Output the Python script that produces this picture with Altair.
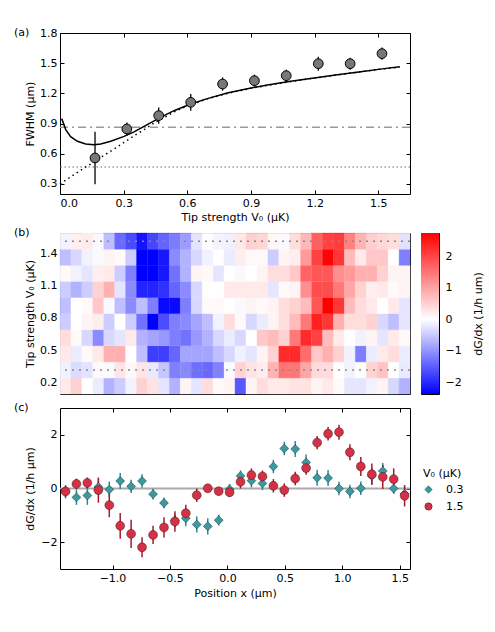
import altair as alt
import pandas as pd

FONT = "DejaVu Sans"
W, H = 350, 161

# ---------------- panel (a) data ----------------
v0_meas = [0.165, 0.315, 0.465, 0.616, 0.766, 0.916, 1.066, 1.217, 1.367, 1.517]
fwhm_meas = [0.558, 0.846, 0.979, 1.111, 1.293, 1.326, 1.376, 1.495, 1.495, 1.595]
fwhm_err = [0.26, 0.065, 0.08, 0.083, 0.066, 0.06, 0.06, 0.07, 0.06, 0.06]

model_v0 = [0.008, 0.027, 0.05, 0.082, 0.121, 0.16, 0.192, 0.239, 0.302, 0.349, 0.411, 0.474,
            0.537, 0.616, 0.694, 0.788, 0.883, 0.977, 1.087, 1.197, 1.307, 1.417, 1.527, 1.6]
model_fwhm = [0.949, 0.84, 0.77, 0.724, 0.697, 0.69, 0.697, 0.724, 0.773, 0.817, 0.89, 0.962,
              1.028, 1.095, 1.148, 1.204, 1.247, 1.283, 1.32, 1.353, 1.386, 1.416, 1.446, 1.465]
approx_v0 = [0.0, 0.05, 0.1, 0.15, 0.2, 0.25, 0.3, 0.35, 0.4, 0.45, 0.5, 0.55, 0.6, 0.7, 0.8,
             0.9, 1.0, 1.1, 1.2, 1.3, 1.4, 1.5, 1.6]
approx_fwhm = [0.30, 0.37, 0.44, 0.505, 0.575, 0.64, 0.71, 0.78, 0.845, 0.915, 0.97, 1.03, 1.075,
               1.15, 1.205, 1.25, 1.288, 1.322, 1.352, 1.382, 1.41, 1.438, 1.46]
ref_dashdot = [0.863]
ref_dotted = [0.469]
a_xticks = [0.0, 0.3, 0.6, 0.9, 1.2, 1.5]
a_yticks = [0.3, 0.6, 0.9, 1.2, 1.5, 1.8]

# ---------------- panel (c) data ----------------
pos_x = [-1.409, -1.314, -1.219, -1.123, -1.028, -0.933, -0.838, -0.743, -0.647, -0.552, -0.457,
         -0.362, -0.267, -0.171, -0.076, 0.019, 0.114, 0.209, 0.305, 0.400, 0.495, 0.590, 0.685,
         0.781, 0.876, 0.971, 1.066, 1.161, 1.257, 1.352, 1.447, 1.542]
dgdx_03 = [-0.12, -0.33, -0.26, 0.06, -0.04, 0.28, 0.08, 0.28, -0.21, -0.54, -1.19, -1.11, -1.34,
           -1.41, -1.18, -0.03, 0.47, 0.29, 0.19, 0.82, 1.49, 1.47, 0.97, 0.40, 0.39, 0.0, -0.11,
           0.01, 0.47, 0.65, 0.0, -0.2]
err_03 = [0.25, 0.28, 0.35, 0.3, 0.3, 0.3, 0.25, 0.25, 0.2, 0.2, 0.25, 0.3, 0.3, 0.3, 0.2, 0.2,
          0.2, 0.25, 0.25, 0.25, 0.25, 0.3, 0.3, 0.3, 0.3, 0.25, 0.25, 0.25, 0.3, 0.3, 0.2, 0.25]
dgdx_15 = [-0.11, 0.17, 0.21, -0.06, -0.62, -1.39, -1.69, -2.19, -1.73, -1.45, -1.23, -0.92, -0.25,
           0.01, -0.10, -0.14, 0.25, 0.50, 0.45, 0.10, -0.06, 0.37, 0.76, 1.71, 2.04, 2.10, 1.35,
           0.82, 0.53, 0.43, 0.35, -0.27]
err_15 = [0.2, 0.2, 0.2, 0.47, 0.45, 0.48, 0.53, 0.37, 0.34, 0.38, 0.38, 0.31, 0.25, 0.15, 0.15,
          0.17, 0.25, 0.25, 0.22, 0.25, 0.25, 0.25, 0.25, 0.25, 0.25, 0.28, 0.3, 0.35, 0.4, 0.45,
          0.4, 0.4]
series_names = ["0.3", "1.5"]
c_xticks = [-1.0, -0.5, 0.0, 0.5, 1.0, 1.5]
c_yticks = [-2, 0, 2]
zero_line = [0]

# ---------------- panel (b) data ----------------
row_0165 = [0.24, 0.48, 0.0, -0.18, -0.72, -0.48, -0.12, 0.48, 0.3, -0.24, -0.72, 0.12, -0.24, 0.36,
            0.06, 0.12, -1.56, 0.12, 0.36, 0.24, 0.24, 0.3, 0.3, 0.12, 0.24, 0.06, -0.24, -0.24,
            -0.12, 0.12, -0.36, -0.72]
row_0465 = [0.24, -0.18, 0.06, 0.24, 0.84, 0.84, 0.0, -0.6, -1.8, -1.8, -1.44, -0.84, -0.84, -0.84,
            -0.6, -0.36, -0.12, -0.24, 0.12, 0.48, 2.28, 2.28, 1.56, 0.6, 0.84, 0.48, -0.12, -1.2,
            -0.18, 0.24, 0.36, -0.18]
row_0616 = [0.36, 0.06, -0.36, -1.08, -0.36, -0.24, 0.24, -0.72, -0.84, -0.96, -1.2, -1.32, -0.96,
            -0.72, -0.36, -0.18, -0.36, 0.0, 0.6, 0.72, 0.48, 1.44, 2.28, 2.04, 0.72, 0.24, 0.0,
            -0.12, 0.12, -0.24, 0.24, 0.06]
row_0766 = [-0.48, 0.0, 0.12, 0.18, -0.48, 0.0, -0.48, -1.32, -2.38, -1.68, -1.2, -1.08, -0.84, -0.6,
            -0.12, 0.36, 0.06, -0.36, -0.18, 0.12, 0.36, 0.72, 1.44, 2.4, 2.16, 0.84, 0.36, 0.36,
            0.48, -0.36, -0.6, -0.24]
row_0916 = [-0.6, 0.0, 0.06, 0.6, -0.06, -0.6, -1.08, -0.6, -1.2, -2.3, -2.3, -1.2, -0.36, 0.06, 0.06,
            0.0, -0.06, 0.12, 0.06, 0.12, 0.36, 0.48, 0.72, 1.8, 2.74, 2.16, 0.72, 0.36, 0.24, 0.0,
            0.24, -0.24]
row_1066 = [-0.48, -0.72, -0.48, 0.48, 0.84, -0.24, -1.08, -2.04, -2.04, -1.92, -1.44, -1.08, -0.36,
            0.0, 0.0, 0.24, 0.24, 0.24, 0.24, -0.24, 0.06, 0.12, 1.2, 1.92, 1.92, 1.44, 0.96, 0.48,
            0.18, 0.24, 0.06, 0.12]
row_1217 = [0.06, -0.12, -0.24, 0.18, 0.24, -0.48, -1.2, -2.38, -2.38, -2.16, -1.32, -0.72, 0.12,
            0.06, -0.24, 0.0, -0.06, 0.0, 0.12, 0.36, 0.36, 0.6, 1.68, 1.8, 1.8, 1.2, 1.08, 0.84,
            0.84, 0.48, 0.12, 0.12]
row_1367 = [-0.6, -0.36, -0.12, -0.06, 0.12, 0.06, -0.48, -2.38, -2.38, -2.16, -1.08, -0.72, -0.36,
            -0.12, 0.0, -0.18, 0.18, 0.06, 0.06, -0.48, 0.12, 0.18, 1.08, 2.04, 2.7, 2.16, 0.72,
            0.24, 0.6, 0.6, 0.0, -1.2]
heat_rows = [row_0165, dgdx_03, row_0465, row_0616, row_0766, row_0916, row_1066, row_1217,
             row_1367, dgdx_15]
cut_v0 = [0.315, 1.517]
b_yticks = [0.2, 0.5, 0.8, 1.1, 1.4]
cb_domain = [-2.38, 2.74]
cb_ticks = [-2, -1, 0, 1, 2]

panel_labels = ["(a)", "(b)", "(c)"]

CELL_W = 0.0952
CELL_H = 0.1503

# ---------------- styles ----------------
TEAL, RED = "#3a9aa0", "#d63046"
TEAL_BAR, RED_BAR = "#2e8a90", "#a8182f"

TICK = dict(tickSize={"expr": "-4"}, tickColor="black", tickWidth=1, domain=False, grid=False)
AXL = dict(TICK, labelFontSize=11, labelPadding=7, labelColor="black", labelFont=FONT,
           titleFontSize=11, titleFontWeight="normal", titleColor="black", titleFont=FONT,
           titlePadding=3)


def mirror(df, xf, yf, xs, ys, xv, yv):
    return alt.Chart(df).mark_point(opacity=0).encode(
        x=alt.X(xf, scale=xs, axis=alt.Axis(orient="top", values=xv, labels=False, title=None, **TICK)),
        y=alt.Y(yf, scale=ys, axis=alt.Axis(orient="right", values=yv, labels=False, title=None, **TICK)),
    )


def panel_label(txt):
    return alt.Chart(pd.DataFrame({"t": [txt]})).mark_text(
        align="left", baseline="middle", fontSize=11, font=FONT, color="black").encode(
        text="t:N", x=alt.value(-46), y=alt.value(0))


# ---------------- panel (a) ----------------
xs_a = alt.Scale(domain=[0.0, 1.649], nice=False, zero=False)
ys_a = alt.Scale(domain=[0.2, 1.8], nice=False, zero=False)
pts_a = pd.DataFrame({"v0": v0_meas, "fwhm": fwhm_meas, "err": fwhm_err})

a_dd = alt.Chart(pd.DataFrame({"y": ref_dashdot})).mark_rule(
    color="#9a9a9a", strokeWidth=1.5, strokeDash=[8, 4, 2, 4]).encode(
    y=alt.Y("y:Q", scale=ys_a, axis=None))
a_dt = alt.Chart(pd.DataFrame({"y": ref_dotted})).mark_rule(
    color="#9a9a9a", strokeWidth=1.5, strokeDash=[1.5, 2.5]).encode(
    y=alt.Y("y:Q", scale=ys_a, axis=None))
a_approx = alt.Chart(pd.DataFrame({"v0": approx_v0, "f": approx_fwhm})).mark_line(
    color="black", strokeWidth=1.5, strokeDash=[1.5, 3.5]).encode(
    x=alt.X("v0:Q", scale=xs_a, axis=None), y=alt.Y("f:Q", scale=ys_a, axis=None))
a_model = alt.Chart(pd.DataFrame({"v0": model_v0, "f": model_fwhm})).mark_line(
    color="black", strokeWidth=1.5).encode(
    x=alt.X("v0:Q", scale=xs_a, axis=None), y=alt.Y("f:Q", scale=ys_a, axis=None))
a_err = alt.Chart(pts_a).transform_calculate(
    lo="datum.fwhm - datum.err", hi="datum.fwhm + datum.err").mark_rule(
    color="black", strokeWidth=1.3).encode(
    x=alt.X("v0:Q", scale=xs_a, axis=None),
    y=alt.Y("lo:Q", scale=ys_a, axis=None), y2="hi:Q")
a_pts = alt.Chart(pts_a).mark_point(filled=True, size=95, color="#777777", stroke="black",
                                    strokeWidth=1, opacity=1).encode(
    x=alt.X("v0:Q", scale=xs_a,
            axis=alt.Axis(values=a_xticks, format=".1f", title="Tip strength V₀ (μK)", **AXL)),
    y=alt.Y("fwhm:Q", scale=ys_a,
            axis=alt.Axis(values=a_yticks, format=".1f", title="FWHM (μm)", titleX=-25, **AXL)),
)
panel_a = alt.layer(a_dd, a_dt, a_approx, a_model, a_err, a_pts,
                    mirror(pts_a, "v0:Q", "fwhm:Q", xs_a, ys_a, a_xticks, a_yticks),
                    panel_label(panel_labels[0])).resolve_axis(
    x="independent", y="independent").properties(width=W, height=H)

# ---------------- panel (b) ----------------
xs_c = alt.Scale(domain=[-1.457, 1.589], nice=False, zero=False)
ys_b = alt.Scale(domain=[0.090, 1.593], nice=False, zero=False)
recs = []
for v0, row in zip(v0_meas, heat_rows):
    for x, val in zip(pos_x, row):
        recs.append({"x": x, "v0": v0, "val": val})
heat_df = pd.DataFrame(recs)
heat_scale = alt.Scale(domain=[cb_domain[0], 0, cb_domain[1]],
                       range=["#0000ff", "#ffffff", "#ff0000"], interpolate="rgb", clamp=True)

heat = alt.Chart(heat_df).transform_calculate(
    x0=f"datum.x - {CELL_W / 2}", x1=f"datum.x + {CELL_W / 2}",
    y0=f"datum.v0 - {CELL_H / 2}", y1=f"datum.v0 + {CELL_H / 2}").mark_rect(
    strokeWidth=0.4).encode(
    x=alt.X("x0:Q", scale=xs_c,
            axis=alt.Axis(values=c_xticks, labels=False, title=None, **TICK)),
    x2="x1:Q",
    y=alt.Y("y0:Q", scale=ys_b,
            axis=alt.Axis(values=b_yticks, format=".1f", title="Tip strength V₀ (μK)",
                          titleX=-25, **AXL)),
    y2="y1:Q",
    fill=alt.Fill("val:Q", scale=heat_scale, legend=None),
    stroke=alt.Stroke("val:Q", scale=heat_scale, legend=None),
)
cuts = alt.Chart(pd.DataFrame({"v0": cut_v0})).mark_rule(
    color="#8a8a8a", strokeWidth=1.5, strokeDash=[2, 5]).encode(
    y=alt.Y("v0:Q", scale=ys_b, axis=None))
panel_b = alt.layer(heat, cuts,
                    mirror(heat_df, "x:Q", "v0:Q", xs_c, ys_b, c_xticks, b_yticks),
                    panel_label(panel_labels[1])).resolve_axis(
    x="independent", y="independent").properties(width=W, height=H)

white_off = cb_domain[1] / (cb_domain[1] - cb_domain[0])
cbar = alt.Chart(pd.DataFrame({"lo": [cb_domain[0]], "hi": [cb_domain[1]]})).mark_rect(
    fill=alt.LinearGradient(gradient="linear", x1=0, x2=0, y1=0, y2=1,
                            stops=[alt.GradientStop(color="#ff0000", offset=0),
                                   alt.GradientStop(color="#ffffff", offset=white_off),
                                   alt.GradientStop(color="#0000ff", offset=1)])).encode(
    x=alt.value(0), x2=alt.value("width"),
    y=alt.Y("lo:Q", scale=alt.Scale(domain=cb_domain, nice=False, zero=False),
            axis=alt.Axis(orient="right", values=cb_ticks, format="d", title="dG/dx (1/h um)",
                          titleAngle=270, titleBaseline="top",
                          **dict(AXL, labelPadding=10, titlePadding=11))),
    y2="hi:Q",
).properties(width=18, height=H)

# ---------------- panel (c) ----------------
ys_c = alt.Scale(domain=[-3, 3], nice=False, zero=False)
c_df = pd.DataFrame({
    "x": pos_x + pos_x,
    "y": dgdx_03 + dgdx_15,
    "err": err_03 + err_15,
    "V0": [series_names[0]] * len(pos_x) + [series_names[1]] * len(pos_x),
})
c_zero = alt.Chart(pd.DataFrame({"y": zero_line})).mark_rule(
    color="#aaaaaa", strokeWidth=2).encode(y=alt.Y("y:Q", scale=ys_c, axis=None))


def err_layer(name, col):
    return alt.Chart(c_df).transform_filter(alt.datum.V0 == name).transform_calculate(
        lo="datum.y - datum.err", hi="datum.y + datum.err").mark_rule(
        strokeWidth=1.5, color=col).encode(
        x=alt.X("x:Q", scale=xs_c, axis=None),
        y=alt.Y("lo:Q", scale=ys_c, axis=None), y2="hi:Q")


# legend sits in the top-level group (origin = plot origin of panel a)
LEG_X = 363
LEG_Y = 435
leg = alt.Legend(title="V₀ (μK)", orient="none", legendX=LEG_X, legendY=LEG_Y, symbolSize=55,
                 labelFontSize=11, titleFontSize=11, titleFontWeight="normal", labelFont=FONT,
                 titleFont=FONT, labelColor="black", titleColor="black", padding=0,
                 titlePadding=5, rowPadding=5, labelOffset=12, symbolStrokeWidth=0.8)
c_pts = alt.Chart(c_df).mark_point(filled=True, size=80, opacity=1, stroke="rgba(0,0,0,0.45)",
                                   strokeWidth=0.8).encode(
    x=alt.X("x:Q", scale=xs_c,
            axis=alt.Axis(values=c_xticks, format=".1f", title="Position x (μm)",
                          **dict(AXL, titlePadding=4))),
    y=alt.Y("y:Q", scale=ys_c,
            axis=alt.Axis(values=c_yticks, format="d", title="dG/dx (1/h μm)", titleX=-25, **AXL)),
    color=alt.Color("V0:N", scale=alt.Scale(domain=series_names, range=[TEAL, RED]), legend=leg),
    shape=alt.Shape("V0:N", scale=alt.Scale(domain=series_names, range=["diamond", "circle"]),
                    legend=leg),
)
panel_c = alt.layer(c_zero, err_layer(series_names[0], TEAL_BAR), err_layer(series_names[1], RED_BAR),
                    c_pts,
                    mirror(c_df, "x:Q", "y:Q", xs_c, ys_c, c_xticks, c_yticks),
                    panel_label(panel_labels[2])).resolve_axis(
    x="independent", y="independent").properties(width=W, height=H)

chart = alt.vconcat(
    panel_a,
    alt.vconcat(alt.hconcat(panel_b, cbar, spacing=8), panel_c, spacing=6),
    spacing=3,
).properties(
    padding={"left": 13, "top": 26, "right": 0, "bottom": 0}
).configure(font=FONT).configure_view(stroke="black", strokeWidth=1)

chart.save("out.html", embed_options={"renderer": "svg", "actions": False})
